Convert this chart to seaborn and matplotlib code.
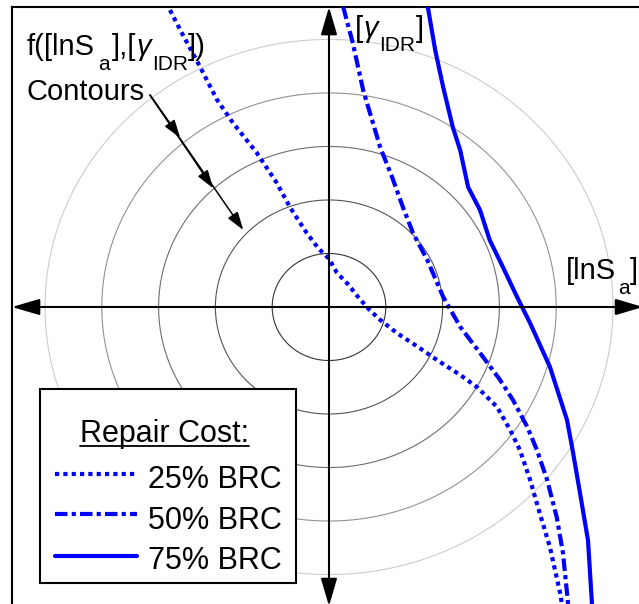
import numpy as np
import pandas as pd
import matplotlib
matplotlib.use("Agg")
import matplotlib.pyplot as plt
import seaborn as sns
from matplotlib.patches import Rectangle, FancyArrowPatch
from matplotlib.lines import Line2D

sns.set_theme(style="white")
plt.rcParams["font.family"] = ["Liberation Sans", "DejaVu Sans"]
plt.rcParams["text.color"] = "black"

# Iso-cost curves in standardized ([lnSa], [gamma_IDR]) space
brc25_x = [-2.80, -2.59, -2.27, -1.97, -1.69, -1.27, -0.92, -0.69, -0.39, -0.19,
           0.00, 0.14, 0.33, 0.51, 0.70, 0.90, 1.20, 1.60, 1.90, 2.31, 2.61,
           2.96, 3.19, 3.36, 3.54, 3.71, 3.89, 4.07, 4.10]
brc25_y = [5.55, 5.12, 4.49, 3.87, 3.44, 2.88, 2.32, 1.87, 1.38, 1.10,
           0.90, 0.64, 0.43, 0.19, -0.04, -0.24, -0.49, -0.77, -0.99, -1.27, -1.50,
           -1.87, -2.30, -2.67, -3.23, -3.85, -4.49, -5.35, -5.55]

brc50_x = [0.25, 0.42, 0.60, 0.90, 1.11, 1.30, 1.48, 1.73, 2.01, 2.31, 2.66,
           3.01, 3.24, 3.49, 3.66, 3.84, 4.01, 4.12, 4.21]
brc50_y = [5.61, 4.93, 4.06, 2.99, 2.43, 1.87, 1.38, 0.88, 0.19, -0.37, -0.86,
           -1.36, -1.74, -2.24, -2.67, -3.23, -3.93, -4.60, -5.55]

brc75_x = [1.74, 1.87, 2.01, 2.18, 2.31, 2.45, 2.66, 2.83, 3.06, 3.31, 3.54,
           3.89, 4.19, 4.28, 4.42, 4.56, 4.63]
brc75_y = [5.61, 4.80, 4.11, 3.36, 2.93, 2.24, 1.81, 1.25, 0.75, 0.19, -0.30,
           -1.12, -2.11, -2.62, -3.48, -4.36, -5.55]

cost_labels = ["25% BRC", "50% BRC", "75% BRC"]
contour_levels = [1, 2, 3, 4, 5]
contour_colors = ["#333333", "#555555", "#6e6e6e", "#929292", "#cccccc"]

# Contours annotation: arrow start and the three arrow tips
arrow_start = (-3.15, 3.96)
arrow_tips_x = [-2.62, -2.04, -1.51]
arrow_tips_y = [3.16, 2.22, 1.44]

frames = []
for lab, xs, ys in zip(cost_labels, [brc25_x, brc50_x, brc75_x],
                       [brc25_y, brc50_y, brc75_y]):
    frames.append(pd.DataFrame({"lnSa": xs, "gIDR": ys, "cost": lab}))
df = pd.concat(frames, ignore_index=True)

dash_map = {"25% BRC": (1, 1), "50% BRC": (3, 1, 1, 1), "75% BRC": ""}
blue = "#0000ff"
palette = {lab: blue for lab in cost_labels}
LW = 3.0

W, H = 639, 604
fig = plt.figure(figsize=(W / 100, H / 100), dpi=100)
ax = fig.add_axes([12 / W, 0, (W - 12) / W, (H - 7) / H])
x_lo, x_hi = -5.581, 5.458
y_lo, y_hi = -5.551, 5.607

# concentric joint-density contours
g = np.linspace(-6.5, 6.5, 801)
X, Y = np.meshgrid(g, g)
R = np.sqrt(X ** 2 + Y ** 2)
ax.contour(X, Y, R, levels=contour_levels, colors=contour_colors,
           linewidths=0.8, zorder=1)

sns.lineplot(data=df, x="lnSa", y="gIDR", hue="cost", style="cost",
             units="cost", estimator=None, sort=False, palette=palette,
             dashes=dash_map, linewidth=LW, legend=False, ax=ax, zorder=3)

ax.set_xlim(x_lo, x_hi)
ax.set_ylim(y_lo, y_hi)
ax.set_xticks([])
ax.set_yticks([])
ax.set_xlabel("")
ax.set_ylabel("")
for side in ["right", "bottom"]:
    ax.spines[side].set_visible(False)
for side in ["left", "top"]:
    ax.spines[side].set_visible(True)
    ax.spines[side].set_color("black")
    ax.spines[side].set_linewidth(1.5)

# double-headed coordinate axes
axis_style = "<|-|>,head_length=1.7,head_width=0.5"
for pa, pb in [((x_lo, 0), (5.53, 0)), ((0, y_hi), (0, -5.59))]:
    arr = FancyArrowPatch(pa, pb, arrowstyle=axis_style, mutation_scale=10,
                          color="black", lw=1.5, shrinkA=0, shrinkB=0,
                          clip_on=False, zorder=4)
    ax.add_patch(arr)

# arrows pointing at the contours
for tx, ty in zip(arrow_tips_x, arrow_tips_y):
    ax.annotate("", xy=(tx, ty), xytext=arrow_start,
                arrowprops=dict(arrowstyle="-|>,head_length=1.1,head_width=0.36",
                                mutation_scale=10, color="black", lw=1.1,
                                shrinkA=0, shrinkB=0), zorder=4)

renderer = fig.canvas.get_renderer()


def fx(px):
    return px / W


def fy(py):
    return 1 - py / H


def rich_text(x, y, parts):
    """Draw text pieces left to right; each part is (string, size, drop, gap, style)."""
    cur = x
    for s, size, drop, gap, style in parts:
        cur += gap
        t = fig.text(fx(cur), fy(y + drop), s, fontsize=size, va="baseline",
                     ha="left", fontstyle=style, color="black", zorder=6)
        cur += t.get_window_extent(renderer).width


MAIN = 21
SUB = 15
rich_text(27, 55, [("f([lnS", MAIN, 0, 0, "normal"),
                   ("a", SUB, 15, 3, "normal"),
                   ("],[", MAIN, 0, 2, "normal"),
                   ("\u03b3", MAIN, 0, 0, "italic"),
                   ("IDR", SUB, 15, 1, "normal"),
                   ("])", MAIN, 0, 0, "normal")])
fig.text(fx(27), fy(100), "Contours", fontsize=MAIN, va="baseline", ha="left",
         color="black")

rich_text(355, 37, [("[", MAIN, 0, 0, "normal"),
                    ("\u03b3", MAIN, 0, 0, "italic"),
                    ("IDR", SUB, 14, 1, "normal"),
                    ("]", MAIN, 0, 1, "normal")])
rich_text(566, 279, [("[lnS", MAIN, 0, 0, "normal"),
                     ("a", SUB, 15, 2, "normal"),
                     ("]", MAIN, 0, 0, "normal")])

# legend box
box = Rectangle((fx(40), fy(583)), 256 / W, 194 / H, transform=fig.transFigure,
                facecolor="white", edgecolor="black", lw=1.5, zorder=7)
fig.add_artist(box)
LEG = 22
title = fig.text(fx(164), fy(442), "Repair Cost:", fontsize=LEG, ha="center",
                 va="baseline", color="black", zorder=8)
tb = title.get_window_extent(renderer)
fig.add_artist(Line2D([tb.x0 / W, tb.x1 / W], [fy(445.5), fy(445.5)],
                      transform=fig.transFigure, color="black", lw=1.3, zorder=8))

for lab, ly, tyb in zip(cost_labels, [474, 514, 556], [488, 529, 569]):
    ls = dash_map[lab]
    line = Line2D([fx(55), fx(137)], [fy(ly), fy(ly)], transform=fig.transFigure,
                  color=blue, lw=LW, zorder=8)
    if ls:
        line.set_dashes(ls)
    fig.add_artist(line)
    fig.text(fx(148), fy(tyb), lab, fontsize=LEG, va="baseline", ha="left",
             color="black", zorder=8)

fig.savefig("out.png", dpi=100)
